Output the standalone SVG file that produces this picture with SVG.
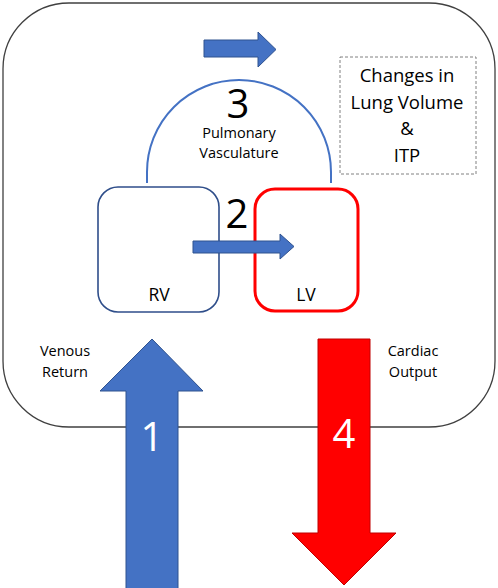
<svg xmlns="http://www.w3.org/2000/svg" width="498" height="588" viewBox="0 0 498 588">
<style>
text{font-family:"Open Sans","Liberation Sans",sans-serif;fill:#000;text-anchor:middle}
.lbl{font-size:14.5px}
.ch{font-size:17.5px}
.big{font-size:40px}
.box{font-size:18.5px}
.wnum{font-size:40px;fill:#fff}
.blue{fill:#4472C4;stroke:#2F528F;stroke-width:1}
.red{fill:#FF0000;stroke:#C00000;stroke-width:1}
</style>
<rect width="498" height="588" fill="#fff"/>
<g id="thorax">
<rect x="3" y="3" width="492" height="424" rx="66" ry="66" fill="#fff" stroke="#404040" stroke-width="1.3"/>
</g>
<g id="lung-box">
<rect x="340" y="57" width="136" height="117" fill="none" stroke="#808080" stroke-width="1" stroke-dasharray="3 2"/>
<text class="box" x="407" y="82">Changes in</text>
<text class="box" x="407" y="109">Lung Volume</text>
<text class="box" x="407" y="135">&amp;</text>
<text class="box" x="407" y="162">ITP</text>
</g>
<g id="pulmonary">
<path d="M147,183 L147,172 A92,92 0 0 1 331,172 L331,183" fill="none" stroke="#4472C4" stroke-width="2"/>
<text class="big" x="238" y="118">3</text>
<text class="lbl" x="239" y="138">Pulmonary</text>
<text class="lbl" x="239" y="158">Vasculature</text>
</g>
<g id="rv">
<rect x="98" y="187" width="121" height="125" rx="20" ry="20" fill="none" stroke="#2F4E8A" stroke-width="1.6"/>
<text class="ch" x="159" y="301">RV</text>
</g>
<g id="lv">
<rect x="255" y="189" width="103" height="122" rx="20" ry="20" fill="none" stroke="#FF0000" stroke-width="3"/>
<text class="ch" x="306" y="301">LV</text>
</g>
<text class="big" x="237" y="228">2</text>
<g id="connectors">
<polygon class="blue" points="204,40 258,40 258,32 276,49.5 258,67 258,57 204,57"/>
<polygon class="blue" points="193,241 280,241 280,234 294,246.5 280,259 280,253 193,253"/>
<polygon class="blue" points="126,589 126,391 100,391 152,339 203,391 178,391 178,589"/>
<polygon class="red" points="318,339 370,339 370,533 396,533 344,585 292,533 318,533"/>
</g>
<text class="wnum" x="152" y="451">1</text>
<text class="wnum" x="344" y="448">4</text>
<g id="venous-label">
<text class="lbl" x="65" y="356">Venous</text>
<text class="lbl" x="65" y="377">Return</text>
</g>
<g id="cardiac-label">
<text class="lbl" x="413" y="356">Cardiac</text>
<text class="lbl" x="413" y="377">Output</text>
</g>
</svg>
